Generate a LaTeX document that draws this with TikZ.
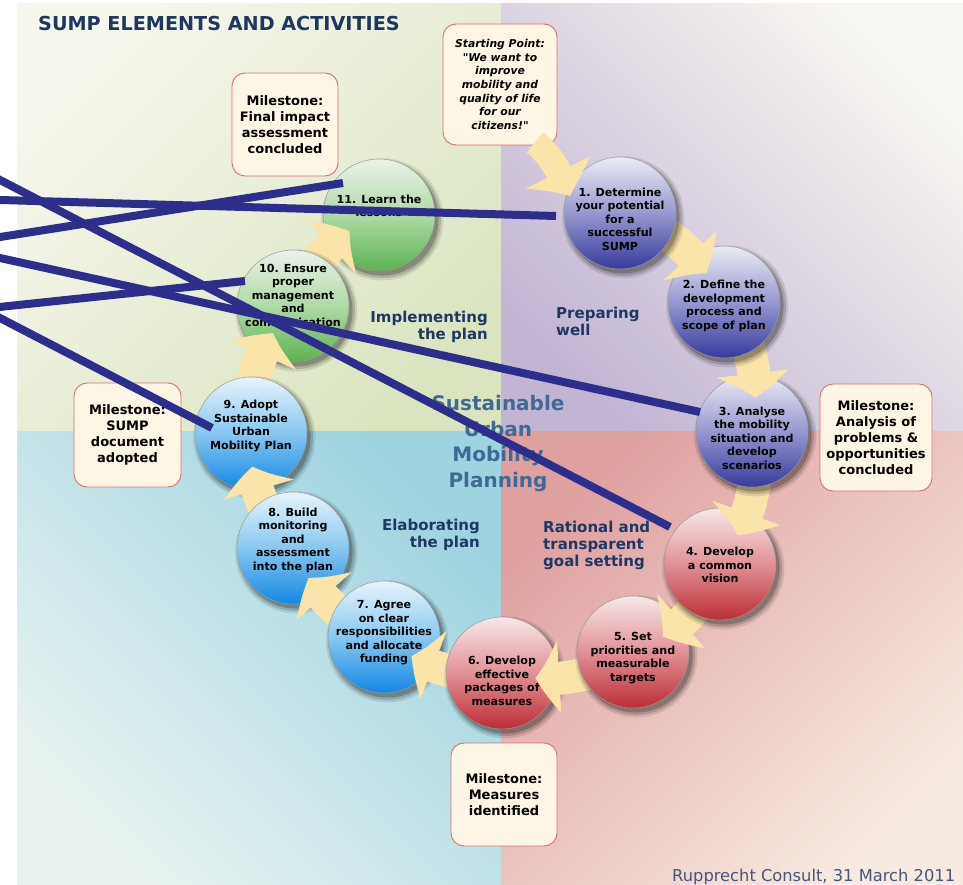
\documentclass[tikz,border=0pt]{standalone}
\usepackage{fontspec}
\setmainfont{DejaVu Sans}
\newfontfamily\spfont{DejaVu Sans}
\usetikzlibrary{arrows.meta,bending,calc,shadows}
\definecolor{navy}{RGB}{45,45,140}
\definecolor{titlec}{RGB}{30,55,95}
\definecolor{labc}{RGB}{30,55,100}
\definecolor{centc}{RGB}{65,105,150}
\definecolor{footc}{RGB}{70,85,125}
\definecolor{arrc}{RGB}{251,228,170}
\definecolor{boxfill}{RGB}{253,246,228}
\definecolor{boxdraw}{RGB}{212,112,112}
\definecolor{qgreen}{RGB}{218,229,192}
\definecolor{qgreenl}{RGB}{246,246,236}
\definecolor{qlav}{RGB}{194,181,212}
\definecolor{qlavl}{RGB}{248,246,240}
\definecolor{qblue}{RGB}{158,211,224}
\definecolor{qbluel}{RGB}{232,243,241}
\definecolor{qpink}{RGB}{223,160,160}
\definecolor{qpinkl}{RGB}{247,234,224}
\definecolor{purT}{RGB}{236,236,244}
\definecolor{purM}{RGB}{150,152,208}
\definecolor{purB}{RGB}{55,58,155}
\definecolor{redT}{RGB}{248,232,232}
\definecolor{redM}{RGB}{225,145,150}
\definecolor{redB}{RGB}{188,45,52}
\definecolor{bluT}{RGB}{232,244,252}
\definecolor{bluM}{RGB}{135,200,240}
\definecolor{bluB}{RGB}{20,135,228}
\definecolor{grnT}{RGB}{235,242,233}
\definecolor{grnM}{RGB}{175,218,165}
\definecolor{grnB}{RGB}{92,178,82}
\tikzset{
  circ/.style={circle, minimum size=112pt, inner sep=0pt, draw=black!40, line width=0.5pt,
    drop shadow={shadow xshift=3pt, shadow yshift=-4pt, shadow scale=1.09, opacity=0.10, fill=black},
    drop shadow={shadow xshift=3pt, shadow yshift=-4pt, shadow scale=1.05, opacity=0.15, fill=black},
    drop shadow={shadow xshift=3pt, shadow yshift=-4pt, shadow scale=1.01, opacity=0.22, fill=black}},
  purc/.style={circ, top color=purT, bottom color=purB, middle color=purM},
  redc/.style={circ, top color=redT, bottom color=redB, middle color=redM},
  bluc/.style={circ, top color=bluT, bottom color=bluB, middle color=bluM},
  grnc/.style={circ, top color=grnT, bottom color=grnB, middle color=grnM},
  ctext/.style={align=center, inner sep=0pt, font=\bfseries\fontsize{11.1}{13.5}\selectfont},
  yarrow/.style={draw=arrc, line width=33pt, -{Triangle[width=68pt,length=27pt,bend]},
    shorten <=30pt, shorten >=36pt},
  startarrow/.style={draw=arrc, line width=26pt, -{Triangle[width=68pt,length=28pt,bend]}},
  milestone/.style={draw=boxdraw, fill=boxfill, rounded corners=13pt, line width=0.9pt,
    align=center, inner sep=0pt, font=\bfseries\fontsize{13}{16}\selectfont},
  navyline/.style={draw=navy, line width=8pt},
  region/.style={text=labc, inner sep=0pt, font=\bfseries\fontsize{15}{17}\selectfont},
}
\begin{document}
\begin{tikzpicture}[x=1pt,y=-1pt]
\useasboundingbox (0,0) rectangle (963,885);
\fill[white] (0,0) rectangle (963,885);
\shade[top color=qgreenl, bottom color=qgreen, shading angle=45] (17,4) rectangle (501,431);
\shade[top color=qlavl, bottom color=qlav, shading angle=-45] (501,4) rectangle (963,431);
\shade[top color=qblue, bottom color=qbluel, shading angle=-45] (17,431) rectangle (501,885);
\shade[top color=qpink, bottom color=qpinkl, shading angle=45] (501,431) rectangle (963,885);

% circle centres
\coordinate (p1) at (620,213);
\coordinate (p2) at (724,302);
\coordinate (p3) at (752,431);
\coordinate (p4) at (720,564);
\coordinate (p5) at (633,652);
\coordinate (p6) at (502,673);
\coordinate (p7) at (384,637);
\coordinate (p8) at (293,548);
\coordinate (p9) at (251,433);
\coordinate (p10) at (293,306);
\coordinate (p11) at (379,215);

% title, labels, milestones
\node[anchor=west, inner sep=0pt, text=titlec, font=\bfseries\fontsize{19.2}{22}\selectfont] (title) at (38,24) {SUMP ELEMENTS AND ACTIVITIES};
\node[milestone, minimum width=106pt, minimum height=103pt] (mfinal) at (285,124.5) {Milestone:\\Final impact\\assessment\\concluded};
\node[milestone, minimum width=112pt, minimum height=107pt] (manalysis) at (876,437.5) {Milestone:\\Analysis of\\problems \&\\opportunities\\concluded};
\node[milestone, minimum width=107pt, minimum height=104pt] (msump) at (127.5,435) {Milestone:\\SUMP\\document\\adopted};
\node[milestone, minimum width=106pt, minimum height=103pt] (mmeasures) at (504,794.5) {Milestone:\\Measures\\identified};

\node[region, anchor=east, align=right] (limpl) at (488,326.5) {Implementing\\the plan};
\node[region, anchor=west, align=left] (lprep) at (556,321.5) {Preparing\\well};
\node[region, anchor=east, align=right] (lelab) at (480,534.5) {Elaborating\\the plan};
\node[region, anchor=west, align=left] (lrat) at (543,545) {Rational and\\transparent\\goal setting};
\node[text=centc, align=center, inner sep=0pt, font=\bfseries\fontsize{20}{25.7}\selectfont] (centre) at (498,443.5) {Sustainable\\Urban\\Mobility\\Planning};

\node[anchor=west, inner sep=0pt, text=footc, font=\fontsize{16.3}{20}\selectfont] (footer) at (672,877) {Rupprecht Consult, 31 March 2011};

% circles and arrows, drawn from last to first
\node[grnc] (c11) at (p11) {};
\node[ctext] (t11) at ($(p11)+(0,-9)$) {11. Learn the\\lessons};
\draw[yarrow] (p10) to[bend left=22] (p11);
\node[grnc] (c10) at (p10) {};
\node[ctext] (t10) at ($(p10)+(0,-11)$) {10. Ensure\\proper\\management\\and\\communication};
\draw[yarrow] (p9) to[bend left=22] (p10);
\node[bluc] (c9) at (p9) {};
\node[ctext] (t9) at ($(p9)+(0,-7)$) {9. Adopt\\Sustainable\\Urban\\Mobility Plan};
\draw[yarrow] (p8) to[bend left=22] (p9);
\node[bluc] (c8) at (p8) {};
\node[ctext] (t8) at ($(p8)+(0,-8)$) {8. Build\\monitoring\\and\\assessment\\into the plan};
\draw[yarrow] (p7) to[bend left=22] (p8);
\node[bluc] (c7) at (p7) {};
\node[ctext] (t7) at ($(p7)+(0,-4)$) {7. Agree\\on clear\\responsibilities\\and allocate\\funding};
\draw[yarrow] (p6) to[bend left=22] (p7);
\node[redc] (c6) at (p6) {};
\node[ctext] (t6) at ($(p6)+(0,8)$) {6. Develop\\effective\\packages of\\measures};
\draw[yarrow] (p5) to[bend left=22] (p6);
\node[redc] (c5) at (p5) {};
\node[ctext] (t5) at ($(p5)+(0,6)$) {5. Set\\priorities and\\measurable\\targets};
\draw[yarrow] (p4) to[bend left=22] (p5);
\node[redc] (c4) at (p4) {};
\node[ctext] (t4) at ($(p4)+(0,1)$) {4. Develop\\a common\\vision};
\draw[yarrow] (p3) to[bend left=22] (p4);
\node[purc] (c3) at (p3) {};
\node[ctext] (t3) at ($(p3)+(0,7)$) {3. Analyse\\the mobility\\situation and\\develop\\scenarios};
\draw[yarrow] (p2) to[bend left=22] (p3);
\node[purc] (c2) at (p2) {};
\node[ctext] (t2) at ($(p2)+(0,4)$) {2. Define the\\development\\process and\\scope of plan};
\draw[yarrow] (p1) to[bend left=22] (p2);
\node[purc] (c1) at (p1) {};
\node[ctext] (t1) at ($(p1)+(0,6)$) {1. Determine\\your potential\\for a\\successful\\SUMP};

% starting point
\node[milestone, minimum width=114pt, minimum height=121pt, font=\spfont\bfseries\itshape\fontsize{10.8}{13.6}\selectfont] (sp) at (500,84.5) {Starting Point:\\"We want to\\improve\\mobility and\\quality of life\\for our\\citizens!"};
\draw[startarrow] ($(sp.south)+(35,-3)$) to[out=-40,in=115] ($(c1)+(-50,-17)$);

% dark leader lines
\coordinate (l1) at (-10,199.7);
\coordinate (l2) at (-10,238.6);
\coordinate (l3) at (-10,174.8);
\coordinate (l4) at (-10,255.8);
\coordinate (l5) at (-10,308);
\coordinate (l6) at (-10,312.8);
\draw[navyline] (l1) -- ($(c1)+(-64,3)$);
\draw[navyline] (l2) -- ($(c11)+(-36,-32)$);
\draw[navyline] (l3) -- ($(c4)+(-50,-37)$);
\draw[navyline] (l4) -- ($(c3)+(-52,-19)$);
\draw[navyline] (l5) -- ($(c10)+(-48,-25)$);
\draw[navyline] (l6) -- ($(c9)+(-39,-5)$);
\end{tikzpicture}
\end{document}
